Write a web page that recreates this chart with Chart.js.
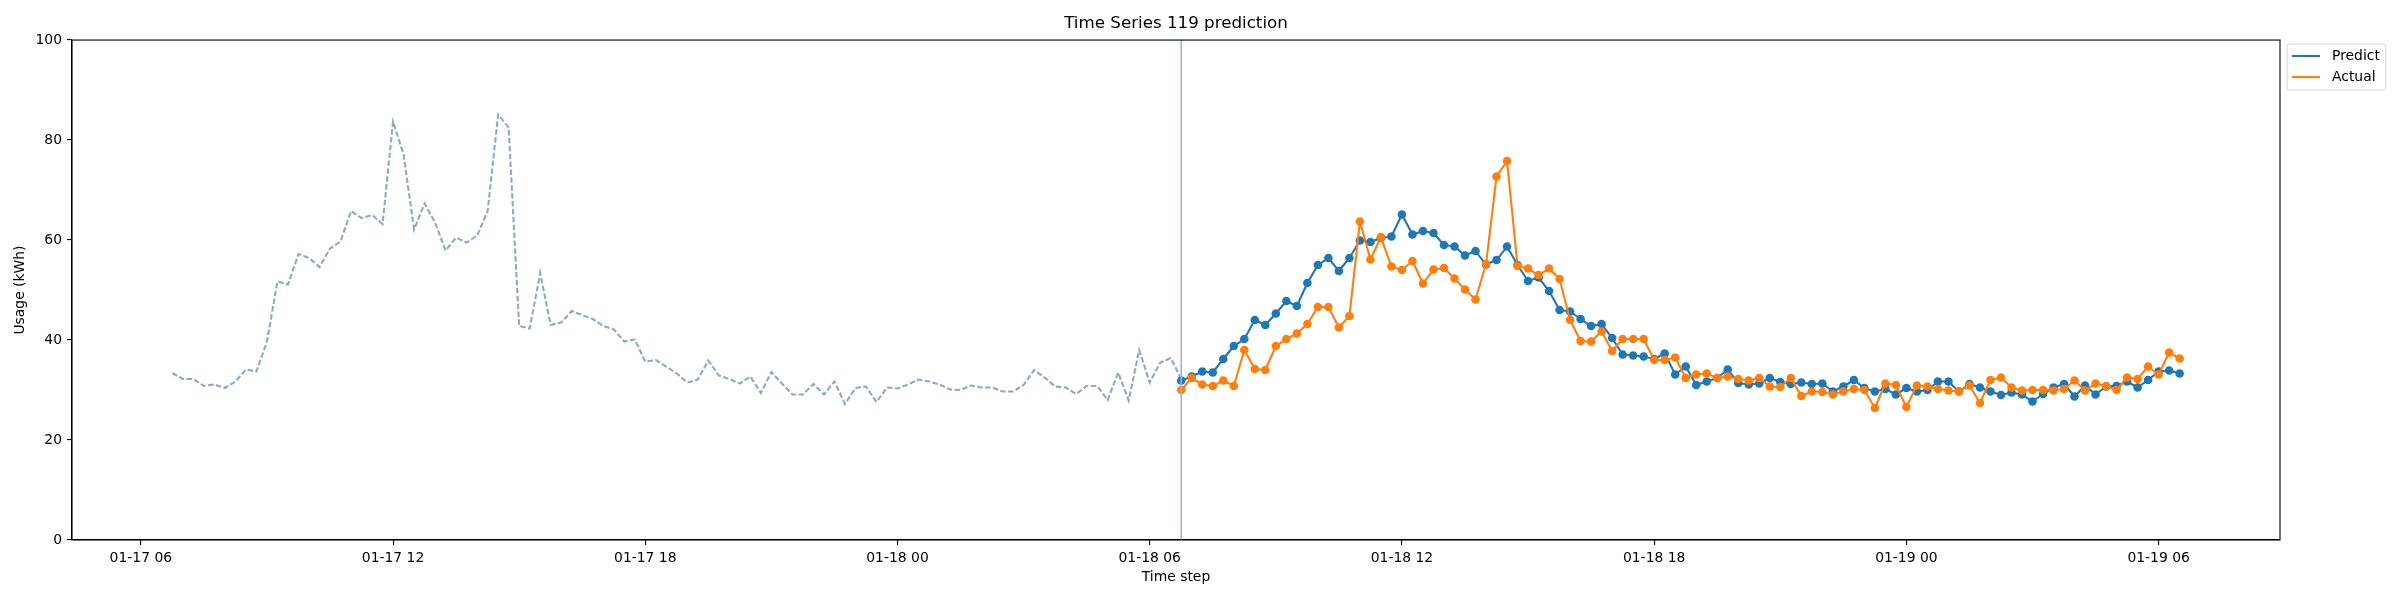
<!DOCTYPE html>
<html>
<head>
<meta charset="utf-8">
<script src="https://cdn.jsdelivr.net/npm/chart.js@4.4.1/dist/chart.umd.min.js"></script>
<style>
  html, body { margin: 0; padding: 0; background: #fff; }
  #wrap { width: 2400px; height: 600px; }
</style>
</head>
<body>
<div id="wrap"><canvas id="mainChart" width="2400" height="600"></canvas></div>
<script>
const FONT = "'DejaVu Sans', sans-serif";

// hours since 01-17 00:00, 15 minute steps
const HIST_START = 6.75;
const PRED_START = 30.75;
const STEP = 0.25;

const tickHours = [6, 12, 18, 24, 30, 36, 42, 48, 54];
const tickLabels = ['01-17 06', '01-17 12', '01-17 18', '01-18 00', '01-18 06', '01-18 12', '01-18 18', '01-19 00', '01-19 06'];
const yTicks = [0, 20, 40, 60, 80, 100];

const historyValues = [
  33.4, 32.2, 32.2, 30.8, 31.1, 30.4, 31.7, 34.1, 33.7, 39.7,
  51.7, 51.1, 57.2, 56.4, 54.6, 58.3, 59.7, 65.8, 64.4, 65.0,
  63.2, 83.7, 77.1, 62.1, 67.3, 63.5, 57.9, 60.5, 59.5, 60.9,
  65.8, 85.1, 82.5, 42.8, 42.3, 53.4, 43.0, 43.5, 45.8, 45.0,
  44.2, 42.8, 42.1, 39.7, 40.1, 35.7, 36.0, 34.7, 33.3, 31.5,
  32.1, 35.9, 32.9, 32.2, 31.3, 32.7, 29.4, 33.6, 31.3, 29.1,
  29.1, 31.2, 29.1, 31.7, 27.2, 30.4, 30.7, 27.6, 30.5, 30.3,
  31.1, 32.1, 31.7, 31.1, 30.1, 30.0, 30.9, 30.5, 30.5, 29.7,
  29.7, 31.0, 34.0, 32.5, 30.7, 30.5, 29.2, 30.8, 30.8, 28.0,
  33.5, 27.9, 38.0, 31.5, 35.5, 36.4, 32.2,
];

const predictValues = [
  31.9, 32.7, 33.7, 33.5, 36.2, 38.8, 40.2, 44.0, 43.0, 45.3,
  47.8, 46.8, 51.4, 55.0, 56.4, 53.8, 56.4, 59.9, 59.6, 60.4,
  60.7, 65.1, 61.1, 61.8, 61.4, 59.0, 58.7, 56.9, 57.8, 55.1,
  56.0, 58.7, 55.0, 51.8, 52.5, 49.8, 46.0, 45.7, 44.2, 42.8,
  43.2, 40.4, 37.1, 36.9, 36.7, 36.2, 37.3, 33.1, 34.7, 31.0,
  31.7, 32.4, 34.1, 31.4, 31.1, 31.3, 32.4, 31.6, 31.2, 31.5,
  31.2, 31.3, 29.7, 30.7, 32.0, 30.4, 29.7, 30.2, 29.1, 30.4,
  29.7, 30.0, 31.7, 31.7, 29.7, 31.2, 30.5, 29.7, 29.0, 29.5,
  29.1, 27.7, 29.2, 30.5, 31.2, 28.7, 30.9, 29.1, 30.7, 30.8,
  31.7, 30.5, 32.0, 33.7, 33.9, 33.3,
];

const actualValues = [
  30.0, 32.4, 31.1, 30.8, 31.9, 30.8, 38.0, 34.2, 34.0, 38.8,
  40.2, 41.3, 43.2, 46.6, 46.6, 42.5, 44.8, 63.7, 56.1, 60.6,
  54.7, 54.0, 55.8, 51.3, 54.1, 54.4, 52.3, 50.1, 48.1, 55.2,
  72.7, 75.8, 54.8, 54.3, 53.0, 54.3, 52.2, 44.0, 39.8, 39.7,
  41.7, 37.8, 40.2, 40.2, 40.2, 36.0, 36.0, 36.5, 32.4, 33.1,
  33.3, 32.4, 32.7, 32.2, 31.9, 32.4, 30.7, 30.6, 32.4, 28.8,
  29.7, 29.6, 29.1, 29.7, 30.2, 30.0, 26.4, 31.3, 31.0, 26.6,
  30.9, 30.7, 30.2, 29.9, 29.7, 30.9, 27.4, 32.0, 32.5, 30.5,
  29.9, 30.0, 30.0, 29.9, 30.2, 31.9, 29.9, 31.3, 30.8, 30.0,
  32.5, 32.2, 34.7, 33.1, 37.5, 36.3,
];

function toPoints(start, values) {
  return values.map((v, i) => ({ x: start + i * STEP, y: v }));
}

const lastTime = PRED_START + (predictValues.length - 1) * STEP;
const span = lastTime - HIST_START;
const xMin = HIST_START - span * 0.05;
const xMax = lastTime + span * 0.05;

const frame = {
  id: 'frame',
  afterDatasetsDraw(chart) {
    const { ctx, chartArea: a } = chart;
    ctx.save();
    ctx.strokeStyle = '#000';
    ctx.lineWidth = 1.1;
    ctx.strokeRect(a.left, a.top, a.right - a.left, a.bottom - a.top);
    ctx.restore();
  }
};

const boxLegend = {
  id: 'boxLegend',
  afterDraw(chart) {
    const { ctx, chartArea: a } = chart;
    const items = chart.data.datasets.filter(d => d.inLegend);
    ctx.save();
    ctx.font = '13.9px ' + FONT;
    const textW = Math.max(...items.map(d => ctx.measureText(d.label).width));
    const x = a.right + 7, y = a.top + 4;
    const w = 5 + 28 + 12 + textW + 6, h = 46;
    ctx.beginPath();
    ctx.roundRect(x, y, w, h, 3);
    ctx.fillStyle = 'rgba(255,255,255,0.8)';
    ctx.fill();
    ctx.strokeStyle = '#d6d6d6';
    ctx.lineWidth = 1;
    ctx.stroke();
    items.forEach((d, i) => {
      const cy = y + 12 + i * 21;
      ctx.beginPath();
      ctx.moveTo(x + 5, cy);
      ctx.lineTo(x + 33, cy);
      ctx.strokeStyle = d.borderColor;
      ctx.lineWidth = 2.1;
      ctx.stroke();
      ctx.fillStyle = '#000';
      ctx.textBaseline = 'middle';
      ctx.fillText(d.label, x + 45, cy);
    });
    ctx.restore();
  }
};

function renderChart() {
  const datasets = [
    {
      label: 'History',
      data: toPoints(HIST_START, historyValues),
      borderColor: '#8ea8c8',
      borderWidth: 2.1,
      borderDash: [5.5, 2.4],
      pointRadius: 0,
      order: 3,
    },
    {
      label: 'Split',
      data: [{ x: PRED_START, y: 0 }, { x: PRED_START, y: 100 }],
      borderColor: '#a2b2d8',
      borderWidth: 1.6,
      pointRadius: 0,
      order: -1,
    },
    {
      label: 'Predict',
      inLegend: true,
      data: toPoints(PRED_START, predictValues),
      borderColor: '#1f77b4',
      backgroundColor: '#1f77b4',
      borderWidth: 2.1,
      borderJoinStyle: 'round',
      pointRadius: 4.3,
      pointBorderWidth: 0,
      order: 1,
    },
    {
      label: 'Actual',
      inLegend: true,
      data: toPoints(PRED_START, actualValues),
      borderColor: '#ff7f0e',
      backgroundColor: '#ff7f0e',
      borderWidth: 2.1,
      borderJoinStyle: 'round',
      pointRadius: 4.3,
      pointBorderWidth: 0,
      order: 0,
    },
  ];

  new Chart(document.getElementById('mainChart'), {
    type: 'line',
    data: { datasets },
    plugins: [frame, boxLegend],
    options: {
      responsive: false,
      devicePixelRatio: 1,
      animation: false,
      events: [],
      layout: { padding: { left: 0, right: 120, top: 0, bottom: 0 } },
      plugins: {
        legend: { display: false },
        tooltip: { enabled: false },
        title: {
          display: true,
          fullSize: false,
          text: 'Time Series 119 prediction',
          color: '#000',
          font: { family: FONT, size: 16.7, weight: 'normal' },
          padding: { top: 14, bottom: 6 },
        },
      },
      scales: {
        x: {
          type: 'linear',
          min: xMin,
          max: xMax,
          afterBuildTicks: s => { s.ticks = tickHours.map(v => ({ value: v })); },
          afterFit: s => { s.height = 60; },
          ticks: {
            autoSkip: false,
            maxRotation: 0,
            padding: 5,
            color: '#000',
            font: { family: FONT, size: 13.9 },
            callback: v => tickLabels[tickHours.indexOf(v)],
          },
          grid: { drawOnChartArea: false, drawTicks: true, tickLength: 5, color: '#000', lineWidth: 1.1 },
          border: { display: true, color: '#000', width: 1.1 },
          title: {
            display: true,
            text: 'Time step',
            color: '#000',
            font: { family: FONT, size: 13.9 },
            padding: { top: 0, bottom: 14 },
          },
        },
        y: {
          min: 0,
          max: 100,
          afterBuildTicks: s => { s.ticks = yTicks.map(v => ({ value: v })); },
          afterFit: s => { s.width = 72; },
          ticks: {
            padding: 5,
            color: '#000',
            font: { family: FONT, size: 13.9 },
          },
          grid: { drawOnChartArea: false, drawTicks: true, tickLength: 5, color: '#000', lineWidth: 1.1 },
          border: { display: true, color: '#000', width: 1.1 },
          title: {
            display: true,
            text: 'Usage (kWh)',
            color: '#000',
            font: { family: FONT, size: 13.9 },
            padding: { top: 12, bottom: 0 },
          },
        },
      },
    },
  });
}

renderChart();
</script>
</body>
</html>
